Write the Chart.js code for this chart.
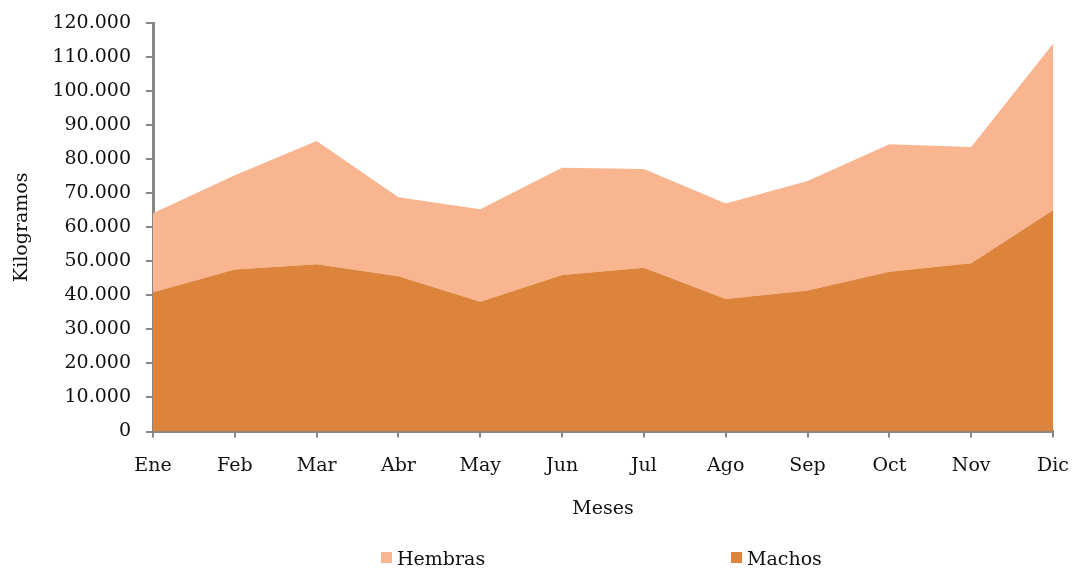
<!DOCTYPE html>
<html>
<head>
<meta charset="utf-8">
<script src="https://cdn.jsdelivr.net/npm/chart.js@4/dist/chart.umd.min.js"></script>
<style>
html,body{margin:0;padding:0;background:#fff;}
#wrap{position:relative;width:1072px;height:569px;}
#c{position:absolute;left:0;top:0;}
.lg{position:absolute;font-family:"DejaVu Serif",serif;font-size:19px;color:#111;line-height:22px;}
.sw{position:absolute;width:11px;height:11px;}
</style>
</head>
<body>
<div id="wrap">
<canvas id="c" width="1072" height="569"></canvas>
<div class="sw" style="left:381px;top:552px;background:#F8B590"></div>
<div class="lg" style="left:397px;top:547px">Hembras</div>
<div class="sw" style="left:731px;top:552px;background:#DC843B"></div>
<div class="lg" style="left:747px;top:547px">Machos</div>
</div>
<script>
const months = ["Ene","Feb","Mar","Abr","May","Jun","Jul","Ago","Sep","Oct","Nov","Dic"];
const machos = [40900, 47600, 49100, 45600, 38100, 46000, 48100, 38900, 41400, 46900, 49400, 65000];
const hembras = [23200, 27700, 36200, 23200, 27200, 31500, 29000, 28100, 32200, 37500, 34200, 48900];
const yMax = 120000;
const yStep = 10000;

function fmt(v){ return String(v).replace(/\B(?=(\d{3})+(?!\d))/g, "."); }

const axisColor = "#878787";
const font = {family:"DejaVu Serif", size:19};

new Chart(document.getElementById("c"), {
  type: "line",
  data: {
    labels: months,
    datasets: [
      {label:"Machos", data: machos, fill:"origin", backgroundColor:"#DC843B", borderWidth:0, pointRadius:0, tension:0},
      {label:"Hembras", data: hembras, fill:"-1", backgroundColor:"#F8B590", borderWidth:0, pointRadius:0, tension:0}
    ]
  },
  options: {
    responsive:false,
    animation:false,
    events:[],
    layout:{padding:{left:0, right:19, top:23, bottom:49}},
    plugins:{legend:{display:false}, tooltip:{enabled:false}},
    scales:{
      x:{
        offset:false,
        grid:{drawOnChartArea:false, drawTicks:true, tickLength:6, color:axisColor, lineWidth:2},
        border:{display:true, color:axisColor, width:3},
        ticks:{font:font, color:"#111", padding:17, maxRotation:0, autoSkip:false},
        title:{display:true, text:"Meses", font:font, color:"#111", padding:0},
        afterFit(s){ s.height = 88.5; s.paddingLeft = 0; s.paddingRight = 0; }
      },
      y:{
        stacked:true,
        min:0, max:yMax,
        grid:{drawOnChartArea:false, drawTicks:true, tickLength:7, color:axisColor, lineWidth:2},
        border:{display:true, color:axisColor, width:3},
        ticks:{stepSize:yStep, font:font, color:"#111", padding:15, callback:(v)=>fmt(v)},
        title:{display:true, text:"Kilogramos", font:font, color:"#111", padding:11},
        afterFit(s){ s.width = 153; s.paddingTop = 0; s.paddingBottom = 0; }
      }
    }
  }
});
</script>
</body>
</html>
